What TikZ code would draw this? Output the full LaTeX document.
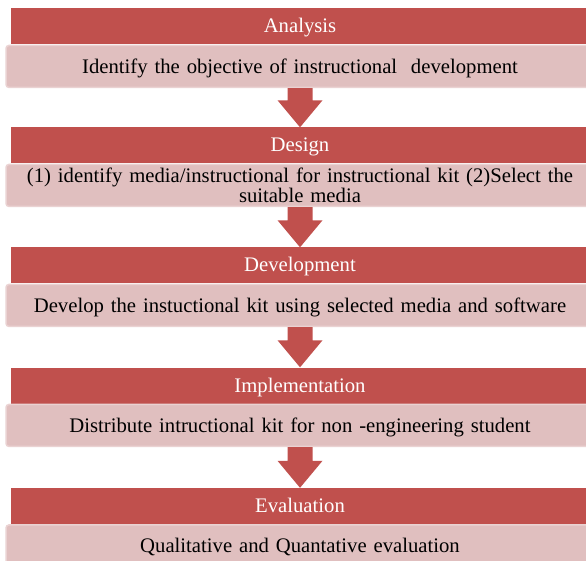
\documentclass[tikz,border=0pt]{standalone}
\usepackage{fontspec}
\setmainfont{Liberation Serif}
\usetikzlibrary{calc}
\definecolor{hdr}{HTML}{C0504D}
\definecolor{bodyfill}{RGB}{224,191,191}
\definecolor{bodyedge}{RGB}{234,210,210}
\tikzset{
  header/.style={fill=hdr, text=white, minimum width=578pt, minimum height=36pt,
    inner sep=0pt, text height=14pt, text depth=1pt,
    font=\fontsize{20.7}{20}\selectfont},
  detail/.style={fill=bodyfill, draw=bodyedge, line width=1.5pt, rounded corners=3pt,
    minimum width=588pt, minimum height=42pt, inner sep=0pt, text width=580pt,
    align=center, anchor=north, font=\fontsize{20.7}{20}\selectfont},
  oneline/.style={text height=15pt, text depth=1pt},
  flow/.style={fill=hdr}
}
\begin{document}
\begin{tikzpicture}[x=1pt,y=-1pt]
\path[use as bounding box] (0,0) rectangle (586,561);
\clip (0,0) rectangle (586,561);

% phase headers with their descriptions
\node[header] (h1) at (300,26.5) {Analysis};
\node[detail, oneline] (d1) at (h1.south) {Identify the objective of instructional\ \ development};

\node[header] (h2) at (300,145.5) {Design};
\node[detail] (d2) at (h2.south) {(1) identify media/instructional for instructional kit (2)Select the\\ suitable media};

\node[header] (h3) at (300,265.5) {Development};
\node[detail, oneline] (d3) at (h3.south) {Develop the instuctional kit using selected media and software};

\node[header] (h4) at (300,385.5) {Implementation};
\node[detail, oneline] (d4) at (h4.south) {Distribute intructional kit for non -engineering student};

\node[header] (h5) at (300,506) {Evaluation};
\node[detail, oneline] (d5) at (h5.south) {Qualitative and Quantative evaluation};

% block arrows between phases
\foreach \a/\b in {d1/h2,d2/h3,d3/h4,d4/h5}{
  \fill[flow] ($(\a.south)+(-12.5,0)$) -- ($(\a.south)+(12.5,0)$)
    -- ($(\b.north)+(12.5,-27)$) -- ($(\b.north)+(22.5,-27)$)
    -- (\b.north)
    -- ($(\b.north)+(-22.5,-27)$) -- ($(\b.north)+(-12.5,-27)$) -- cycle;
}
\end{tikzpicture}
\end{document}
